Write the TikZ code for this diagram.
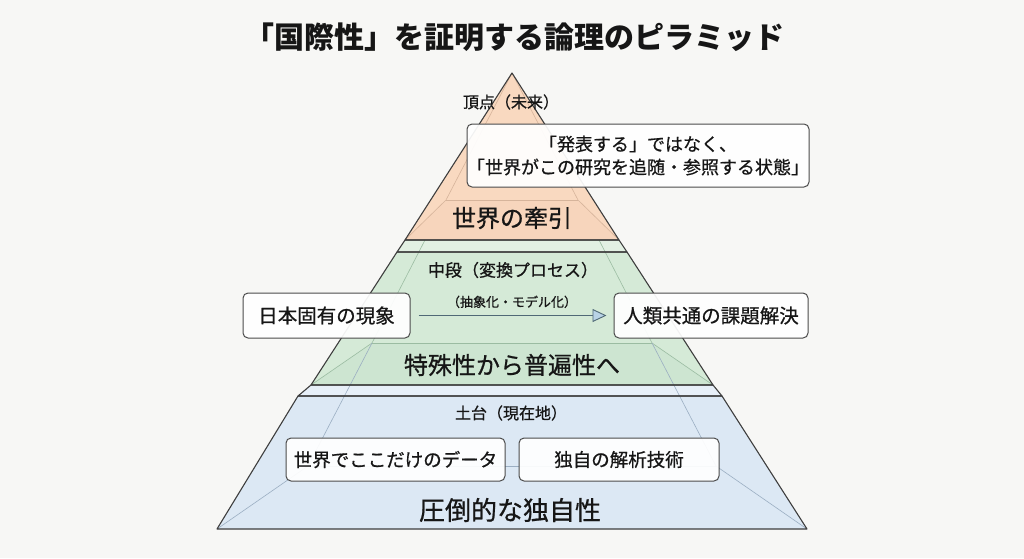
\documentclass[tikz,border=0pt]{standalone}
\usepackage{fontspec}
\newfontfamily\jp[FakeBold=0.7]{Noto Sans CJK JP}
\newfontfamily\jpb{Noto Sans CJK JP}
\usetikzlibrary{arrows.meta}
\definecolor{bg}{RGB}{247,247,245}
\definecolor{orfill}{RGB}{249,217,192}
\definecolor{orband}{RGB}{247,213,188}
\definecolor{grfill}{RGB}{213,234,215}
\definecolor{grlip}{RGB}{226,240,227}
\definecolor{grband}{RGB}{205,229,209}
\definecolor{blfill}{RGB}{220,232,244}
\definecolor{bllip}{RGB}{231,239,248}
\definecolor{edge}{RGB}{62,62,62}
\definecolor{faintor}{RGB}{214,180,155}
\definecolor{faintgr}{RGB}{155,188,162}
\definecolor{faintbl}{RGB}{155,174,194}
\definecolor{boxedge}{RGB}{75,75,75}
\definecolor{txt}{RGB}{22,22,22}
\definecolor{arrline}{RGB}{80,105,118}
\definecolor{arrfill}{RGB}{185,211,230}
\newcommand{\fs}[2]{\jp\fontsize{#1}{#2}\selectfont}
\tikzset{
  tier/.style={draw=edge, line width=1.1pt, line join=round},
  faint/.style={line width=0.6pt},
  jbox/.style={draw=boxedge, fill=white, fill opacity=0.93, text opacity=1, rounded corners=5pt, line width=1pt, inner sep=0pt, text=txt},
  lab/.style={inner sep=0pt, text=txt},
}
\begin{document}
\begin{tikzpicture}[x=1pt,y=-1pt]
\useasboundingbox[fill=bg] (0,0) rectangle (1024,558);
% title
\node[lab, font=\jpb\fontsize{30}{35}\selectfont\bfseries] (title) at (514,37) {「国際性」を証明する論理のピラミッド};
% fills
\fill[orfill] (512,73) -- (619,240) -- (405,240) -- cycle;
\fill[orband] (446,200) -- (578,200) -- (619,240) -- (405,240) -- cycle;
\fill[grlip] (405,240) -- (619,240) -- (627,252) -- (397,252) -- cycle;
\fill[grfill] (397,252) -- (627,252) -- (713,385) -- (311,385) -- cycle;
\fill[grband] (372,343) -- (652,343) -- (713,385) -- (311,385) -- cycle;
\fill[bllip] (311,385) -- (713,385) -- (722,396) -- (298,396) -- cycle;
\fill[blfill] (298,396) -- (722,396) -- (807,529) -- (217,529) -- cycle;
% faint inner lines
\draw[faint, faintor] (512,73) -- (446,200) -- (405,240);
\draw[faint, faintor] (512,73) -- (578,200) -- (619,240);
\draw[faint, faintor] (446,200) -- (578,200);
\draw[faint, faintgr] (425,240) -- (372,343) -- (311,385);
\draw[faint, faintgr] (599,240) -- (652,343) -- (713,385);
\draw[faint, faintgr] (372,343) -- (652,343);
\draw[faint, faintbl] (372,343) -- (308,466) -- (217,529);
\draw[faint, faintbl] (652,343) -- (716,466) -- (807,529);
\draw[faint, faintbl] (308,466) -- (716,466);
% outlines
\draw[tier] (512,73) -- (619,240) -- (405,240) -- cycle;
\draw[tier] (405,240) -- (619,240) -- (627,252) -- (397,252) -- cycle;
\draw[tier] (397,252) -- (627,252) -- (713,385) -- (311,385) -- cycle;
\draw[tier] (311,385) -- (713,385) -- (722,396) -- (298,396) -- cycle;
\draw[tier] (298,396) -- (722,396) -- (807,529) -- (217,529) -- cycle;
% labels
\node[lab, font=\fs{16}{19}] (apexlab) at (511,102) {頂点（未来）};
\node[jbox, minimum width=334pt, minimum height=63pt, align=center, font=\fs{18}{23}] (topbox) at (638,155.5) {「発表する」ではなく、\\「世界がこの研究を追随・参照する状態」};
\node[lab, font=\fs{24}{28}] (toplab) at (512,218) {世界の牽引};
\node[lab, font=\fs{17}{20}] (midlab) at (513,270) {中段（変換プロセス）};
\node[jbox, minimum width=167pt, minimum height=45pt, font=\fs{19.5}{23}] (lbox) at (326.5,315.5) {日本固有の現象};
\node[jbox, minimum width=194pt, minimum height=45pt, font=\fs{19.5}{23}] (rbox) at (711,315.5) {人類共通の課題解決};
\draw[arrline, line width=0.9pt, shorten <=8pt, shorten >=7pt, -{Triangle[length=14pt, width=13pt, fill=arrfill]}] (lbox) -- (rbox)
  node[midway, above=7pt, lab, font=\fs{13}{16}] (arrlab) {（抽象化・モデル化）};
\node[lab, font=\fs{24}{28}] (midtitle) at (512,365) {特殊性から普遍性へ};
\node[lab, font=\fs{16}{19}] (baselab) at (511,413) {土台（現在地）};
\node[jbox, minimum width=219pt, minimum height=43pt, font=\fs{18.5}{22}] (b1) at (395.5,459.5) {世界でここだけのデータ};
\node[jbox, minimum width=200pt, minimum height=43pt, font=\fs{18.5}{22}] (b2) at (619,459.5) {独自の解析技術};
\node[lab, font=\fs{26}{30}] (basetitle) at (510,510) {圧倒的な独自性};
\end{tikzpicture}
\end{document}
